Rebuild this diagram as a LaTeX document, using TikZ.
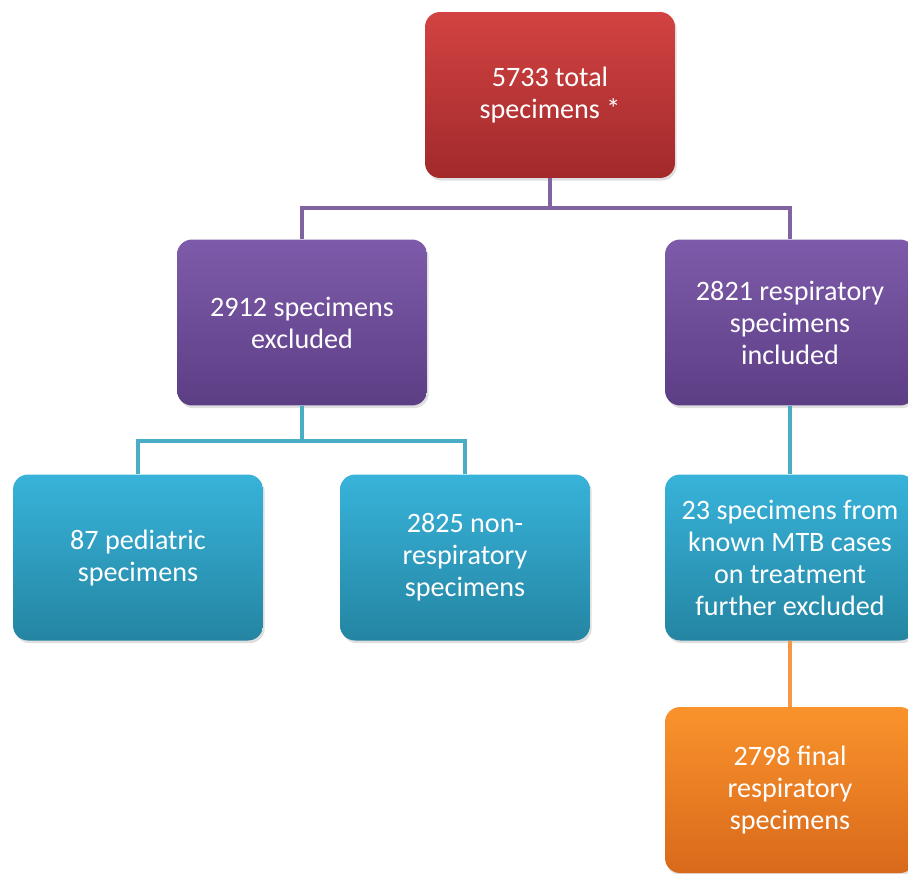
\documentclass[tikz,border=0pt]{standalone}
\usepackage{fontspec}
\setmainfont{Carlito}
\usetikzlibrary{shadows}
\definecolor{redtop}{HTML}{D24342}
\definecolor{redbot}{HTML}{A2292B}
\definecolor{purtop}{HTML}{7E5BAA}
\definecolor{purbot}{HTML}{5C3E85}
\definecolor{cyantop}{HTML}{38B3DA}
\definecolor{cyanbot}{HTML}{2485A2}
\definecolor{orgtop}{HTML}{FA932C}
\definecolor{orgbot}{HTML}{D8691B}
\definecolor{purline}{HTML}{8064A2}
\definecolor{cyanline}{HTML}{4BACC6}
\definecolor{orgline}{HTML}{F79646}
\tikzset{
  box/.style={rounded corners=0.3cm, minimum width=5cm, minimum height=3.32cm,
    align=center, text=white, font=\fontsize{16pt}{18.2pt}\selectfont,
    drop shadow={opacity=0.25, shadow xshift=1pt, shadow yshift=-1.5pt}},
  redbox/.style={box, top color=redtop, bottom color=redbot},
  purbox/.style={box, top color=purtop, bottom color=purbot},
  cyanbox/.style={box, top color=cyantop, bottom color=cyanbot},
  orgbox/.style={box, top color=orgtop, bottom color=orgbot},
  link/.style={line width=2.3pt}
}
\begin{document}
\begin{tikzpicture}[x=0.02cm, y=-0.02cm]
    \useasboundingbox (0,0) rectangle (908,873);
    \clip (0,0) rectangle (908,873);
    % boxes
    \node[redbox] (total) at (550,95) {5733 total\\specimens *};
    \node[purbox] (excl) at (302,322.5) {2912 specimens\\excluded};
    \node[purbox] (incl) at (790,322.5) {2821 respiratory\\specimens\\included};
    \node[cyanbox] (ped) at (138,557.5) {87 pediatric\\specimens};
    \node[cyanbox] (nonresp) at (465,557.5) {2825 non-\\respiratory\\specimens};
    \node[cyanbox] (mtb) at (790,557.5) {23 specimens from\\known MTB cases\\on treatment\\further excluded};
    \node[orgbox] (final) at (790,790) {2798 final\\respiratory\\specimens};
    % connectors
    \draw[link, purline] (total.south) -- ++(0,30) coordinate (j1);
    \draw[link, purline] (j1) -| (excl.north);
    \draw[link, purline] (j1) -| (incl.north);
    \draw[link, cyanline] (excl.south) -- ++(0,35) coordinate (j2);
    \draw[link, cyanline] (j2) -| (ped.north);
    \draw[link, cyanline] (j2) -| (nonresp.north);
    \draw[link, cyanline] (incl.south) -- (mtb.north);
    \draw[link, orgline] (mtb.south) -- (final.north);
\end{tikzpicture}
\end{document}
